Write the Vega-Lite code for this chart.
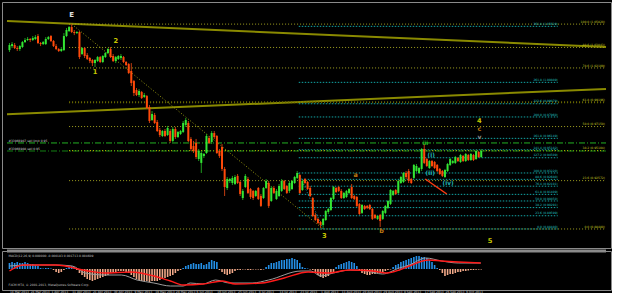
{
"$schema":"https://vega.github.io/schema/vega-lite/v6.json",
"background":"#000000",
"padding":{"left":1,"top":1,"right":0,"bottom":0},
"config":{"view":{"stroke":"#8a8a8a","fill":"#000000"},"font":"DejaVu Sans","text":{"font":"DejaVu Sans"}},
"spacing":0,
"resolve":{"scale":{"x":"independent","y":"independent"}},
"datasets":{
"c":[
{"i":0,"o":1.0362,"h":1.0422,"l":1.0346,"c":1.0405,"m":0.003},
{"i":1,"o":1.0396,"h":1.0430,"l":1.0379,"c":1.0413,"m":0.0035},
{"i":2,"o":1.0405,"h":1.0422,"l":1.0371,"c":1.0379,"m":0.003},
{"i":3,"o":1.0379,"h":1.0396,"l":1.0354,"c":1.0371,"m":0.0035},
{"i":4,"o":1.0371,"h":1.0405,"l":1.0354,"c":1.0396,"m":0.003},
{"i":5,"o":1.0388,"h":1.0439,"l":1.0379,"c":1.0430,"m":0.003},
{"i":6,"o":1.0430,"h":1.0464,"l":1.0422,"c":1.0447,"m":0.0035},
{"i":7,"o":1.0447,"h":1.0472,"l":1.0439,"c":1.0456,"m":0.003},
{"i":8,"o":1.0456,"h":1.0464,"l":1.0430,"c":1.0447,"m":0.0025},
{"i":9,"o":1.0447,"h":1.0481,"l":1.0439,"c":1.0464,"m":0.0025},
{"i":10,"o":1.0456,"h":1.0489,"l":1.0447,"c":1.0472,"m":0.002},
{"i":11,"o":1.0481,"h":1.0498,"l":1.0413,"c":1.0422,"m":0.0015},
{"i":12,"o":1.0422,"h":1.0430,"l":1.0396,"c":1.0413,"m":0.0005},
{"i":13,"o":1.0413,"h":1.0439,"l":1.0405,"c":1.0430,"m":0.00025},
{"i":14,"o":1.0413,"h":1.0472,"l":1.0405,"c":1.0456,"m":0.0005},
{"i":15,"o":1.0456,"h":1.0481,"l":1.0447,"c":1.0472,"m":0.0005},
{"i":16,"o":1.0481,"h":1.0489,"l":1.0430,"c":1.0439,"m":0.00025},
{"i":17,"o":1.0439,"h":1.0447,"l":1.0388,"c":1.0396,"m":-0.0005},
{"i":18,"o":1.0396,"h":1.0413,"l":1.0362,"c":1.0371,"m":-0.0015},
{"i":19,"o":1.0371,"h":1.0379,"l":1.0346,"c":1.0354,"m":-0.002},
{"i":20,"o":1.0354,"h":1.0388,"l":1.0346,"c":1.0371,"m":-0.0015},
{"i":21,"o":1.0362,"h":1.0506,"l":1.0354,"c":1.0481,"m":-0.0005},
{"i":22,"o":1.0481,"h":1.0549,"l":1.0472,"c":1.0532,"m":0.0005},
{"i":23,"o":1.0523,"h":1.0566,"l":1.0515,"c":1.0557,"m":0.001},
{"i":24,"o":1.0557,"h":1.0582,"l":1.0506,"c":1.0515,"m":0.0015},
{"i":25,"o":1.0515,"h":1.0532,"l":1.0489,"c":1.0506,"m":0.001},
{"i":26,"o":1.0506,"h":1.0523,"l":1.0498,"c":1.0515,"m":-0.0005},
{"i":27,"o":1.0515,"h":1.0523,"l":1.0286,"c":1.0303,"m":-0.002},
{"i":28,"o":1.0329,"h":1.0388,"l":1.0320,"c":1.0379,"m":-0.003},
{"i":29,"o":1.0379,"h":1.0388,"l":1.0295,"c":1.0312,"m":-0.004},
{"i":30,"o":1.0320,"h":1.0337,"l":1.0278,"c":1.0286,"m":-0.005},
{"i":31,"o":1.0295,"h":1.0303,"l":1.0252,"c":1.0269,"m":-0.0055},
{"i":32,"o":1.0278,"h":1.0286,"l":1.0227,"c":1.0252,"m":-0.006},
{"i":33,"o":1.0252,"h":1.0286,"l":1.0219,"c":1.0278,"m":-0.0055},
{"i":34,"o":1.0269,"h":1.0312,"l":1.0261,"c":1.0303,"m":-0.005},
{"i":35,"o":1.0303,"h":1.0312,"l":1.0252,"c":1.0261,"m":-0.0045},
{"i":36,"o":1.0261,"h":1.0320,"l":1.0252,"c":1.0312,"m":-0.004},
{"i":37,"o":1.0303,"h":1.0346,"l":1.0295,"c":1.0337,"m":-0.0035},
{"i":38,"o":1.0337,"h":1.0379,"l":1.0329,"c":1.0371,"m":-0.003},
{"i":39,"o":1.0371,"h":1.0388,"l":1.0295,"c":1.0303,"m":-0.002},
{"i":40,"o":1.0312,"h":1.0329,"l":1.0261,"c":1.0269,"m":-0.0015},
{"i":41,"o":1.0269,"h":1.0312,"l":1.0252,"c":1.0303,"m":-0.0015},
{"i":42,"o":1.0286,"h":1.0320,"l":1.0278,"c":1.0312,"m":-0.001},
{"i":43,"o":1.0295,"h":1.0329,"l":1.0278,"c":1.0312,"m":-0.001},
{"i":44,"o":1.0303,"h":1.0312,"l":1.0252,"c":1.0261,"m":-0.001},
{"i":45,"o":1.0261,"h":1.0269,"l":1.0227,"c":1.0236,"m":-0.0015},
{"i":46,"o":1.0244,"h":1.0252,"l":1.0159,"c":1.0168,"m":-0.002},
{"i":47,"o":1.0185,"h":1.0252,"l":1.0058,"c":1.0083,"m":-0.003},
{"i":48,"o":1.0100,"h":1.0109,"l":0.9973,"c":0.9999,"m":-0.004},
{"i":49,"o":1.0024,"h":1.0041,"l":0.9973,"c":0.9982,"m":-0.005},
{"i":50,"o":0.9982,"h":1.0032,"l":0.9965,"c":1.0016,"m":-0.0055},
{"i":51,"o":1.0007,"h":1.0016,"l":0.9948,"c":0.9956,"m":-0.006},
{"i":52,"o":0.9965,"h":0.9999,"l":0.9956,"c":0.9982,"m":-0.006},
{"i":53,"o":0.9973,"h":0.9982,"l":0.9863,"c":0.9872,"m":-0.006},
{"i":54,"o":0.9880,"h":0.9897,"l":0.9745,"c":0.9762,"m":-0.0065},
{"i":55,"o":0.9770,"h":0.9846,"l":0.9762,"c":0.9821,"m":-0.006},
{"i":56,"o":0.9813,"h":0.9830,"l":0.9736,"c":0.9745,"m":-0.006},
{"i":57,"o":0.9753,"h":0.9770,"l":0.9669,"c":0.9677,"m":-0.006},
{"i":58,"o":0.9686,"h":0.9703,"l":0.9626,"c":0.9643,"m":-0.0055},
{"i":59,"o":0.9635,"h":0.9686,"l":0.9626,"c":0.9677,"m":-0.005},
{"i":60,"o":0.9677,"h":0.9694,"l":0.9626,"c":0.9635,"m":-0.0045},
{"i":61,"o":0.9643,"h":0.9720,"l":0.9635,"c":0.9703,"m":-0.004},
{"i":62,"o":0.9677,"h":0.9694,"l":0.9576,"c":0.9593,"m":-0.0035},
{"i":63,"o":0.9593,"h":0.9711,"l":0.9584,"c":0.9694,"m":-0.003},
{"i":64,"o":0.9694,"h":0.9711,"l":0.9610,"c":0.9626,"m":-0.002},
{"i":65,"o":0.9626,"h":0.9677,"l":0.9618,"c":0.9669,"m":-0.001},
{"i":66,"o":0.9652,"h":0.9686,"l":0.9643,"c":0.9677,"m":-0.0005},
{"i":67,"o":0.9669,"h":0.9762,"l":0.9660,"c":0.9745,"m":0.0005},
{"i":68,"o":0.9728,"h":0.9787,"l":0.9711,"c":0.9770,"m":0.0015},
{"i":69,"o":0.9745,"h":0.9762,"l":0.9584,"c":0.9593,"m":0.002},
{"i":70,"o":0.9610,"h":0.9626,"l":0.9508,"c":0.9525,"m":0.0025},
{"i":71,"o":0.9550,"h":0.9593,"l":0.9491,"c":0.9508,"m":0.003},
{"i":72,"o":0.9576,"h":0.9610,"l":0.9440,"c":0.9457,"m":0.0025},
{"i":73,"o":0.9440,"h":0.9525,"l":0.9423,"c":0.9508,"m":0.0025},
{"i":74,"o":0.9407,"h":0.9508,"l":0.9322,"c":0.9491,"m":0.003},
{"i":75,"o":0.9466,"h":0.9491,"l":0.9449,"c":0.9483,"m":0.002},
{"i":76,"o":0.9491,"h":0.9652,"l":0.9483,"c":0.9635,"m":0.0025},
{"i":77,"o":0.9618,"h":0.9635,"l":0.9567,"c":0.9576,"m":0.0035},
{"i":78,"o":0.9584,"h":0.9677,"l":0.9567,"c":0.9660,"m":0.0045},
{"i":79,"o":0.9660,"h":0.9677,"l":0.9610,"c":0.9626,"m":0.004},
{"i":80,"o":0.9635,"h":0.9643,"l":0.9483,"c":0.9491,"m":0.0035},
{"i":81,"o":0.9508,"h":0.9525,"l":0.9449,"c":0.9466,"m":-0.0005},
{"i":82,"o":0.9542,"h":0.9567,"l":0.9339,"c":0.9356,"m":-0.0015},
{"i":83,"o":0.9356,"h":0.9373,"l":0.9127,"c":0.9203,"m":-0.0025},
{"i":84,"o":0.9195,"h":0.9288,"l":0.9178,"c":0.9271,"m":-0.003},
{"i":85,"o":0.9254,"h":0.9280,"l":0.9237,"c":0.9271,"m":-0.0025},
{"i":86,"o":0.9237,"h":0.9297,"l":0.9220,"c":0.9280,"m":-0.002},
{"i":87,"o":0.9229,"h":0.9305,"l":0.9220,"c":0.9288,"m":-0.001},
{"i":88,"o":0.9297,"h":0.9313,"l":0.9229,"c":0.9237,"m":-0.0005},
{"i":89,"o":0.9246,"h":0.9254,"l":0.9127,"c":0.9144,"m":-0.0005},
{"i":90,"o":0.9110,"h":0.9186,"l":0.9093,"c":0.9170,"m":-0.00025},
{"i":91,"o":0.9203,"h":0.9313,"l":0.9195,"c":0.9297,"m":-0.00025},
{"i":92,"o":0.9271,"h":0.9288,"l":0.9144,"c":0.9153,"m":-0.0005},
{"i":93,"o":0.9186,"h":0.9195,"l":0.9102,"c":0.9119,"m":-0.0005},
{"i":94,"o":0.9170,"h":0.9178,"l":0.9093,"c":0.9110,"m":-0.00025},
{"i":95,"o":0.9127,"h":0.9178,"l":0.9119,"c":0.9170,"m":-0.00025},
{"i":96,"o":0.9195,"h":0.9203,"l":0.9093,"c":0.9102,"m":-0.00025},
{"i":97,"o":0.9127,"h":0.9144,"l":0.9034,"c":0.9043,"m":-0.0005},
{"i":98,"o":0.9110,"h":0.9203,"l":0.9102,"c":0.9195,"m":-0.00025},
{"i":99,"o":0.9195,"h":0.9271,"l":0.9186,"c":0.9254,"m":0.001},
{"i":100,"o":0.9237,"h":0.9254,"l":0.9026,"c":0.9043,"m":0.002},
{"i":101,"o":0.9085,"h":0.9212,"l":0.9077,"c":0.9195,"m":0.003},
{"i":102,"o":0.9195,"h":0.9212,"l":0.9144,"c":0.9153,"m":0.003},
{"i":103,"o":0.9102,"h":0.9186,"l":0.9093,"c":0.9170,"m":0.0035},
{"i":104,"o":0.9127,"h":0.9229,"l":0.9119,"c":0.9212,"m":0.004},
{"i":105,"o":0.9170,"h":0.9271,"l":0.9161,"c":0.9254,"m":0.0045},
{"i":106,"o":0.9254,"h":0.9263,"l":0.9178,"c":0.9186,"m":0.0045},
{"i":107,"o":0.9212,"h":0.9220,"l":0.9144,"c":0.9153,"m":0.005},
{"i":108,"o":0.9170,"h":0.9254,"l":0.9153,"c":0.9237,"m":0.005},
{"i":109,"o":0.9186,"h":0.9263,"l":0.9178,"c":0.9254,"m":0.0055},
{"i":110,"o":0.9237,"h":0.9297,"l":0.9229,"c":0.9288,"m":0.005},
{"i":111,"o":0.9280,"h":0.9339,"l":0.9271,"c":0.9322,"m":0.0045},
{"i":112,"o":0.9305,"h":0.9313,"l":0.9144,"c":0.9153,"m":0.003},
{"i":113,"o":0.9178,"h":0.9263,"l":0.9170,"c":0.9254,"m":0.001},
{"i":114,"o":0.9271,"h":0.9280,"l":0.9229,"c":0.9237,"m":0.0005},
{"i":115,"o":0.9246,"h":0.9254,"l":0.9178,"c":0.9186,"m":0.00025},
{"i":116,"o":0.9195,"h":0.9212,"l":0.9119,"c":0.9127,"m":-0.00025},
{"i":117,"o":0.9110,"h":0.9119,"l":0.8950,"c":0.8958,"m":-0.0005},
{"i":118,"o":0.8967,"h":0.8984,"l":0.8916,"c":0.8924,"m":-0.002},
{"i":119,"o":0.8933,"h":0.8941,"l":0.8890,"c":0.8899,"m":-0.003},
{"i":120,"o":0.8907,"h":0.8916,"l":0.8857,"c":0.8882,"m":-0.004},
{"i":121,"o":0.8882,"h":0.8941,"l":0.8857,"c":0.8933,"m":-0.0045},
{"i":122,"o":0.8924,"h":0.9009,"l":0.8916,"c":0.9000,"m":-0.004},
{"i":123,"o":0.8992,"h":0.9026,"l":0.8975,"c":0.9017,"m":-0.0035},
{"i":124,"o":0.9009,"h":0.9119,"l":0.9000,"c":0.9110,"m":-0.0025},
{"i":125,"o":0.9102,"h":0.9212,"l":0.9093,"c":0.9203,"m":-0.0015},
{"i":126,"o":0.9195,"h":0.9203,"l":0.9153,"c":0.9161,"m":0.001},
{"i":127,"o":0.9203,"h":0.9212,"l":0.9161,"c":0.9170,"m":0.002},
{"i":128,"o":0.9170,"h":0.9186,"l":0.9102,"c":0.9110,"m":0.0025},
{"i":129,"o":0.9110,"h":0.9161,"l":0.9102,"c":0.9153,"m":0.003},
{"i":130,"o":0.9119,"h":0.9178,"l":0.9110,"c":0.9170,"m":0.0035},
{"i":131,"o":0.9153,"h":0.9195,"l":0.9144,"c":0.9186,"m":0.004},
{"i":132,"o":0.9203,"h":0.9229,"l":0.9102,"c":0.9110,"m":0.0035},
{"i":133,"o":0.9127,"h":0.9136,"l":0.9093,"c":0.9102,"m":0.003},
{"i":134,"o":0.9119,"h":0.9127,"l":0.9034,"c":0.9043,"m":0.0015},
{"i":135,"o":0.9060,"h":0.9068,"l":0.8967,"c":0.8975,"m":-0.001},
{"i":136,"o":0.8984,"h":0.9060,"l":0.8975,"c":0.9051,"m":-0.002},
{"i":137,"o":0.9043,"h":0.9051,"l":0.9009,"c":0.9017,"m":-0.0025},
{"i":138,"o":0.9043,"h":0.9051,"l":0.9017,"c":0.9026,"m":-0.003},
{"i":139,"o":0.9051,"h":0.9060,"l":0.9009,"c":0.9017,"m":-0.003},
{"i":140,"o":0.9017,"h":0.9026,"l":0.8924,"c":0.8933,"m":-0.0025},
{"i":141,"o":0.8967,"h":0.8975,"l":0.8933,"c":0.8941,"m":-0.0025},
{"i":142,"o":0.8933,"h":0.8967,"l":0.8924,"c":0.8958,"m":-0.002},
{"i":143,"o":0.8967,"h":0.8975,"l":0.8865,"c":0.8916,"m":-0.002},
{"i":144,"o":0.8933,"h":0.9009,"l":0.8924,"c":0.9000,"m":-0.0015},
{"i":145,"o":0.8984,"h":0.9051,"l":0.8975,"c":0.9043,"m":-0.001},
{"i":146,"o":0.9026,"h":0.9093,"l":0.9017,"c":0.9085,"m":-0.0005},
{"i":147,"o":0.9060,"h":0.9186,"l":0.9051,"c":0.9178,"m":-0.00025},
{"i":148,"o":0.9136,"h":0.9178,"l":0.9127,"c":0.9170,"m":0.001},
{"i":149,"o":0.9178,"h":0.9186,"l":0.9136,"c":0.9144,"m":0.002},
{"i":150,"o":0.9153,"h":0.9263,"l":0.9144,"c":0.9254,"m":0.0025},
{"i":151,"o":0.9237,"h":0.9297,"l":0.9229,"c":0.9288,"m":0.0035},
{"i":152,"o":0.9246,"h":0.9330,"l":0.9237,"c":0.9322,"m":0.004},
{"i":153,"o":0.9322,"h":0.9339,"l":0.9271,"c":0.9288,"m":0.0045},
{"i":154,"o":0.9339,"h":0.9356,"l":0.9237,"c":0.9254,"m":0.005},
{"i":155,"o":0.9271,"h":0.9280,"l":0.9229,"c":0.9237,"m":0.0055},
{"i":156,"o":0.9280,"h":0.9398,"l":0.9271,"c":0.9390,"m":0.006},
{"i":157,"o":0.9339,"h":0.9398,"l":0.9330,"c":0.9381,"m":0.0065},
{"i":158,"o":0.9322,"h":0.9373,"l":0.9313,"c":0.9364,"m":0.0065},
{"i":159,"o":0.9356,"h":0.9533,"l":0.9339,"c":0.9525,"m":0.006},
{"i":160,"o":0.9525,"h":0.9567,"l":0.9398,"c":0.9407,"m":0.006},
{"i":161,"o":0.9440,"h":0.9449,"l":0.9373,"c":0.9381,"m":0.0055},
{"i":162,"o":0.9364,"h":0.9432,"l":0.9356,"c":0.9423,"m":0.0045},
{"i":163,"o":0.9423,"h":0.9432,"l":0.9373,"c":0.9381,"m":0.0035},
{"i":164,"o":0.9415,"h":0.9423,"l":0.9356,"c":0.9364,"m":0.002},
{"i":165,"o":0.9390,"h":0.9398,"l":0.9330,"c":0.9339,"m":0.0005},
{"i":166,"o":0.9356,"h":0.9364,"l":0.9305,"c":0.9313,"m":-0.0005},
{"i":167,"o":0.9339,"h":0.9347,"l":0.9288,"c":0.9297,"m":-0.002},
{"i":168,"o":0.9288,"h":0.9356,"l":0.9280,"c":0.9347,"m":-0.0035},
{"i":169,"o":0.9339,"h":0.9407,"l":0.9330,"c":0.9398,"m":-0.003},
{"i":170,"o":0.9390,"h":0.9449,"l":0.9381,"c":0.9440,"m":-0.0025},
{"i":171,"o":0.9407,"h":0.9432,"l":0.9398,"c":0.9423,"m":-0.0025},
{"i":172,"o":0.9407,"h":0.9466,"l":0.9398,"c":0.9457,"m":-0.002},
{"i":173,"o":0.9449,"h":0.9457,"l":0.9415,"c":0.9423,"m":-0.0015},
{"i":174,"o":0.9415,"h":0.9483,"l":0.9407,"c":0.9474,"m":-0.0015},
{"i":175,"o":0.9466,"h":0.9474,"l":0.9415,"c":0.9423,"m":-0.001},
{"i":176,"o":0.9423,"h":0.9491,"l":0.9415,"c":0.9483,"m":-0.001},
{"i":177,"o":0.9474,"h":0.9483,"l":0.9423,"c":0.9432,"m":-0.00075},
{"i":178,"o":0.9432,"h":0.9491,"l":0.9423,"c":0.9483,"m":-0.0005},
{"i":179,"o":0.9474,"h":0.9483,"l":0.9423,"c":0.9432,"m":-0.0005},
{"i":180,"o":0.9440,"h":0.9517,"l":0.9432,"c":0.9508,"m":-0.0004},
{"i":181,"o":0.9500,"h":0.9508,"l":0.9449,"c":0.9457,"m":-0.0003},
{"i":182,"o":0.9457,"h":0.9525,"l":0.9449,"c":0.9508,"m":-0.00025}
],
"tl":[
{"id":"A","i":-0.95,"p":1.0608},{"id":"A","i":230.12,"p":1.0388},
{"id":"B","i":-0.95,"p":0.9818},{"id":"B","i":230.12,"p":1.0033}
],
"dg":[
{"id":"E3","i":24,"p":1.0582},{"id":"E3","i":121,"p":0.8848},
{"id":"C","i":111.6,"p":0.9322},{"id":"C","i":121,"p":0.8848},
{"id":"R","i":160.4,"p":0.9271},{"id":"R","i":168.7,"p":0.9144}
],
"fy":[
{"lv":100,"p":1.0582,"t":"100.0  (1.05820)"},
{"lv":88.6,"p":1.03843,"t":"88.6  (1.03843)"},
{"lv":78.6,"p":1.02109,"t":"78.6  (1.02109)"},
{"lv":61.8,"p":0.99196,"t":"61.8  (0.99196)"},
{"lv":50,"p":0.9715,"t":"50.0  (0.97150)"},
{"lv":38.2,"p":0.95104,"t":"38.2  (0.95104)"},
{"lv":23.6,"p":0.92572,"t":"23.6  (0.92572)"},
{"lv":0,"p":0.8848,"t":"0.0  (0.88480)"}
],
"fc":[
{"lv":0,"p":0.8848,"t":"0.0  (0.88480)"},
{"lv":23.6,"p":0.89599,"t":"23.6  (0.89599)"},
{"lv":38.2,"p":0.90291,"t":"38.2  (0.90291)"},
{"lv":50,"p":0.9085,"t":"50.0  (0.90850)"},
{"lv":61.8,"p":0.91409,"t":"61.8  (0.91409)"},
{"lv":76.4,"p":0.92101,"t":"76.4  (0.92101)"},
{"lv":88.6,"p":0.9268,"t":"88.6  (0.92680)"},
{"lv":100,"p":0.9322,"t":"100.0  (0.93220)"},
{"lv":127.2,"p":0.94509,"t":"127.2  (0.94509)"},
{"lv":141.4,"p":0.95182,"t":"141.4  (0.95182)"},
{"lv":161.8,"p":0.96149,"t":"161.8  (0.96149)"},
{"lv":200,"p":0.9796,"t":"200.0  (0.97960)"},
{"lv":223.6,"p":0.99079,"t":"223.6  (0.99079)"},
{"lv":261.8,"p":1.00889,"t":"261.8  (1.00889)"},
{"lv":361.8,"p":1.05629,"t":"361.8  (1.05629)"}
],
"orders":[
{"p":0.9576,"t":"#33966987 sell limit 0.95"},
{"p":0.9508,"t":"#33966988 sell 0.95"}
],
"w":[
{"t":"E","i":24,"p":1.066,"k":"E"},
{"t":"1","i":33,"p":1.0176,"k":"n"},
{"t":"2","i":41,"p":1.0439,"k":"n"},
{"t":"3","i":121.5,"p":0.8789,"k":"n"},
{"t":"a","i":133.5,"p":0.9305,"k":"abc"},
{"t":"b","i":143.5,"p":0.8831,"k":"abc"},
{"t":"4","i":181.3,"p":0.9762,"k":"n"},
{"t":"c","i":181.3,"p":0.9694,"k":"abc"},
{"t":"v","i":181.3,"p":0.9630,"k":"v"},
{"t":"5","i":185.4,"p":0.8746,"k":"n"},
{"t":"(i)","i":162.7,"p":0.9474,"k":"sub"},
{"t":"(ii)","i":162.3,"p":0.9322,"k":"sub"},
{"t":"(iv)","i":169.2,"p":0.9237,"k":"sub"},
{"t":"iii","i":160.4,"p":0.9576,"k":"g"}
],
"mg":[
{"i":0,"v":0.0015},{"i":7.6,"v":0.002},{"i":17.8,"v":0.002},{"i":24.2,"v":0.0015},{"i":29.2,"v":-0.002},
{"i":36.7,"v":-0.003},{"i":43.2,"v":-0.003},{"i":49.2,"v":-0.0055},{"i":55.7,"v":-0.007},{"i":62.1,"v":-0.0085},
{"i":67,"v":-0.0085},{"i":69.7,"v":-0.007},{"i":74.6,"v":-0.0075},{"i":79.5,"v":-0.0055},{"i":84.8,"v":-0.007},
{"i":93.6,"v":-0.007},{"i":100,"v":-0.0055},{"i":112.5,"v":-0.001},{"i":116.3,"v":-0.001},{"i":120,"v":-0.0035},
{"i":125,"v":-0.002},{"i":131.4,"v":-0.0005},{"i":137.9,"v":-0.001},{"i":143.9,"v":-0.0025},{"i":150.4,"v":0.0005},
{"i":154.2,"v":0.002},{"i":160.6,"v":0.0055},{"i":166.7,"v":0.004},{"i":173.1,"v":0.003},{"i":181.8,"v":0.003}
],
"mr":[
{"i":0,"v":-0.001},{"i":5.3,"v":0.002},{"i":17.8,"v":0.002},{"i":30.3,"v":-0.001},{"i":36.7,"v":-0.002},
{"i":47,"v":-0.0015},{"i":55.7,"v":-0.0035},{"i":62.1,"v":-0.006},{"i":67,"v":-0.008},{"i":74.6,"v":-0.0075},
{"i":82.2,"v":-0.006},{"i":87.1,"v":-0.0075},{"i":97.3,"v":-0.007},{"i":106,"v":-0.0045},{"i":115.2,"v":-0.0015},
{"i":122.7,"v":-0.002},{"i":131.4,"v":-0.0005},{"i":140.2,"v":-0.001},{"i":145.5,"v":-0.002},{"i":150.4,"v":-0.0005},
{"i":154.2,"v":0.0015},{"i":161.7,"v":0.0045},{"i":166.7,"v":0.004},{"i":173.1,"v":0.0035},{"i":181.8,"v":0.003}
],
"mt":[
{"t":"MACD(12,26,9) 0.000000 -0.000183 0.001713 0.004609","v":0.0065},
{"t":"FXCM MT4, © 2001-2013, MetaQuotes Software Corp.","v":-0.008}
],
"dates":[
{"i":0,"t":"14 Mar 2013"},{"i":8,"t":"24 Mar 2013"},{"i":16,"t":"1 Apr 2013"},{"i":24,"t":"11 Apr 2013"},
{"i":32,"t":"21 Apr 2013"},{"i":40,"t":"30 Apr 2013"},{"i":48,"t":"9 May 2013"},{"i":56,"t":"19 May 2013"},
{"i":64,"t":"28 May 2013"},{"i":72,"t":"6 Jun 2013"},{"i":80,"t":"16 Jun 2013"},{"i":88,"t":"25 Jun 2013"},
{"i":96,"t":"4 Jul 2013"},{"i":104,"t":"14 Jul 2013"},{"i":112,"t":"23 Jul 2013"},{"i":120,"t":"1 Aug 2013"},
{"i":128,"t":"11 Aug 2013"},{"i":136,"t":"20 Aug 2013"},{"i":144,"t":"29 Aug 2013"},{"i":152,"t":"8 Sep 2013"},
{"i":160,"t":"17 Sep 2013"},{"i":168,"t":"26 Sep 2013"},{"i":176,"t":"6 Oct 2013"}
]
},
"vconcat":[
{
"width":609,"height":246,
"layer":[
{"data":{"name":"tl"},"mark":{"type":"line","color":"#8a8a00","strokeWidth":2},
 "encoding":{
  "x":{"field":"i","type":"quantitative","scale":{"domain":[-0.95,230.12],"nice":false,"zero":false},"axis":null},
  "y":{"field":"p","type":"quantitative","scale":{"domain":[0.8687,1.0769],"nice":false,"zero":false},"title":null,
   "axis":{"orient":"right","values":[0.8772,0.8864,0.8956,0.9048,0.914,0.9232,0.9324,0.9416,0.9508,0.96,0.9692,0.9784,0.9876,0.9968,1.006,1.0152,1.0244,1.0336,1.0428,1.052,1.0612,1.0704],"format":".5f","labelFontSize":3,"labelColor":"#c8c8c8","tickColor":"#8a8a8a","tickSize":1.5,"labelPadding":0.5,"domain":false,"grid":false,"title":null,"labelOverlap":false,"labelFlush":false}},
  "detail":{"field":"id"}}},
{"data":{"name":"fy"},"mark":{"type":"rule","strokeDash":[1,2]},
 "encoding":{
  "x":{"datum":23,"type":"quantitative","axis":null},"x2":{"datum":230.12},
  "y":{"field":"p","type":"quantitative","axis":null,"title":null},
  "color":{"condition":[{"test":"datum.lv==38.2","value":"#e8e800"},{"test":"datum.lv==61.8","value":"#6e6e00"}],"value":"#a0a020"},
  "strokeWidth":{"condition":{"test":"datum.lv==61.8","value":2},"value":1}}},
{"data":{"name":"fc"},"mark":{"type":"rule","strokeDash":[1.5,1.5],"color":"#12a4a4","strokeWidth":1},
 "encoding":{
  "x":{"datum":111.6,"type":"quantitative","axis":null},"x2":{"datum":211.5},
  "y":{"field":"p","type":"quantitative","axis":null,"title":null}}},
{"data":{"name":"orders"},"mark":{"type":"rule","strokeDash":[6,2,1,2],"strokeWidth":1},
 "encoding":{
  "x":{"datum":-0.95,"type":"quantitative","axis":null},"x2":{"datum":230.12},
  "y":{"field":"p","type":"quantitative","axis":null,"title":null},
  "color":{"condition":{"test":"datum.p>0.955","value":"#23b023"},"value":"#148014"}}},
{"data":{"name":"dg"},"transform":[{"filter":"datum.id=='E3'"}],"mark":{"type":"line","color":"#9a9a10","strokeDash":[1,2],"strokeWidth":1},
 "encoding":{"x":{"field":"i","type":"quantitative","axis":null},"y":{"field":"p","type":"quantitative","axis":null,"title":null}}},
{"data":{"name":"dg"},"transform":[{"filter":"datum.id=='C'"}],"mark":{"type":"line","color":"#14a0a0","strokeDash":[1,2],"strokeWidth":1},
 "encoding":{"x":{"field":"i","type":"quantitative","axis":null},"y":{"field":"p","type":"quantitative","axis":null,"title":null}}},
{"data":{"name":"dg"},"transform":[{"filter":"datum.id=='R'"}],"mark":{"type":"line","color":"#ff3a10","strokeWidth":1.5},
 "encoding":{"x":{"field":"i","type":"quantitative","axis":null},"y":{"field":"p","type":"quantitative","axis":null,"title":null}}},
{"data":{"name":"c"},"mark":{"type":"rule","strokeWidth":1},
 "encoding":{
  "x":{"field":"i","type":"quantitative","axis":null},
  "y":{"field":"l","type":"quantitative","axis":null,"title":null},"y2":{"field":"h"},
  "color":{"condition":{"test":"datum.c>=datum.o","value":"#1f9f1f"},"value":"#c03c10"}}},
{"data":{"name":"c"},"mark":{"type":"bar","width":2},
 "encoding":{
  "x":{"field":"i","type":"quantitative","axis":null},
  "y":{"field":"o","type":"quantitative","axis":null,"title":null},"y2":{"field":"c"},
  "color":{"condition":{"test":"datum.c>=datum.o","value":"#33e633"},"value":"#ff4a0a"}}},
{"data":{"name":"fy"},"mark":{"type":"text","align":"right","baseline":"bottom","dy":-0.5,"fontSize":3,"color":"#c8c820"},
 "encoding":{
  "x":{"datum":229.7,"type":"quantitative","axis":null},
  "y":{"field":"p","type":"quantitative","axis":null,"title":null},
  "text":{"field":"t"}}},
{"data":{"name":"fc"},"mark":{"type":"text","align":"right","baseline":"bottom","dy":-0.5,"fontSize":3,"color":"#20c0c0"},
 "encoding":{
  "x":{"datum":211.5,"type":"quantitative","axis":null},
  "y":{"field":"p","type":"quantitative","axis":null,"title":null},
  "text":{"field":"t"}}},
{"data":{"name":"orders"},"mark":{"type":"text","align":"left","baseline":"bottom","dy":-0.5,"fontSize":3,"color":"#d0d0d0"},
 "encoding":{
  "x":{"datum":-0.4,"type":"quantitative","axis":null},
  "y":{"field":"p","type":"quantitative","axis":null,"title":null},
  "text":{"field":"t"}}},
{"data":{"name":"w"},"mark":{"type":"text","align":"center","baseline":"middle","fontWeight":"bold"},
 "encoding":{
  "x":{"field":"i","type":"quantitative","axis":null},
  "y":{"field":"p","type":"quantitative","axis":null,"title":null},
  "text":{"field":"t"},
  "color":{"field":"k","type":"nominal","legend":null,"scale":{"domain":["E","n","abc","v","sub","g"],"range":["#e0e0e0","#c8c800","#c07a10","#909090","#20b4b4","#20c020"]}},
  "size":{"field":"k","type":"nominal","legend":null,"scale":{"domain":["E","n","abc","v","sub","g"],"range":[7,5.5,4.5,4.5,4,4]}}}}
]
},
{
"width":609,"height":39,
"layer":[
{"data":{"name":"c"},"mark":{"type":"bar","width":1.6},
 "encoding":{
  "x":{"field":"i","type":"quantitative","scale":{"domain":[-0.95,230.12],"nice":false,"zero":false},
   "axis":{"orient":"bottom","values":[0,8,16,24,32,40,48,56,64,72,80,88,96,104,112,120,128,136,144,152,160,168,176],"labels":false,"ticks":true,"tickSize":1.5,"tickColor":"#8a8a8a","domain":false,"grid":false,"title":null}},
  "y":{"field":"m","type":"quantitative","scale":{"domain":[-0.0105,0.009],"nice":false,"zero":false},"title":null,
   "axis":{"orient":"right","values":[0.0065,0,-0.0085],"labelExpr":"datum.value==0 ? '0.00' : format(datum.value,'.4f')","labelFontSize":3,"labelColor":"#c8c8c8","tickColor":"#8a8a8a","tickSize":1.5,"labelPadding":0.5,"domain":false,"grid":false,"title":null}},
  "y2":{"datum":0},
  "color":{"condition":{"test":"datum.m>=0","value":"#2490e8"},"value":"#f0a888"}}},
{"data":{"name":"mg"},"mark":{"type":"line","color":"#9c9c9c","strokeWidth":1,"interpolate":"monotone"},
 "encoding":{"x":{"field":"i","type":"quantitative","axis":null},"y":{"field":"v","type":"quantitative","axis":null,"title":null}}},
{"data":{"name":"mr"},"mark":{"type":"line","color":"#ff1a1a","strokeWidth":1.4,"interpolate":"monotone"},
 "encoding":{"x":{"field":"i","type":"quantitative","axis":null},"y":{"field":"v","type":"quantitative","axis":null,"title":null}}},
{"data":{"values":[{"a":1}]},"mark":{"type":"rule","color":"#8a8a8a","strokeWidth":3},
 "encoding":{"x":{"datum":-0.95,"type":"quantitative","axis":null},"x2":{"datum":230.12},"y":{"datum":0.009,"type":"quantitative","axis":null}}},
{"data":{"name":"mt"},"mark":{"type":"text","align":"left","baseline":"middle","fontSize":3,"color":"#c0c0c0"},
 "encoding":{"x":{"datum":-0.4,"type":"quantitative","axis":null},"y":{"field":"v","type":"quantitative","axis":null,"title":null},"text":{"field":"t"}}},
{"data":{"name":"dates"},"mark":{"type":"text","align":"left","baseline":"middle","fontSize":3,"dx":0.5,"color":"#c8c8c8"},
 "encoding":{"x":{"field":"i","type":"quantitative","axis":null},"y":{"datum":-0.0114,"type":"quantitative","axis":null},"text":{"field":"t"}}}
]
}
]
}
